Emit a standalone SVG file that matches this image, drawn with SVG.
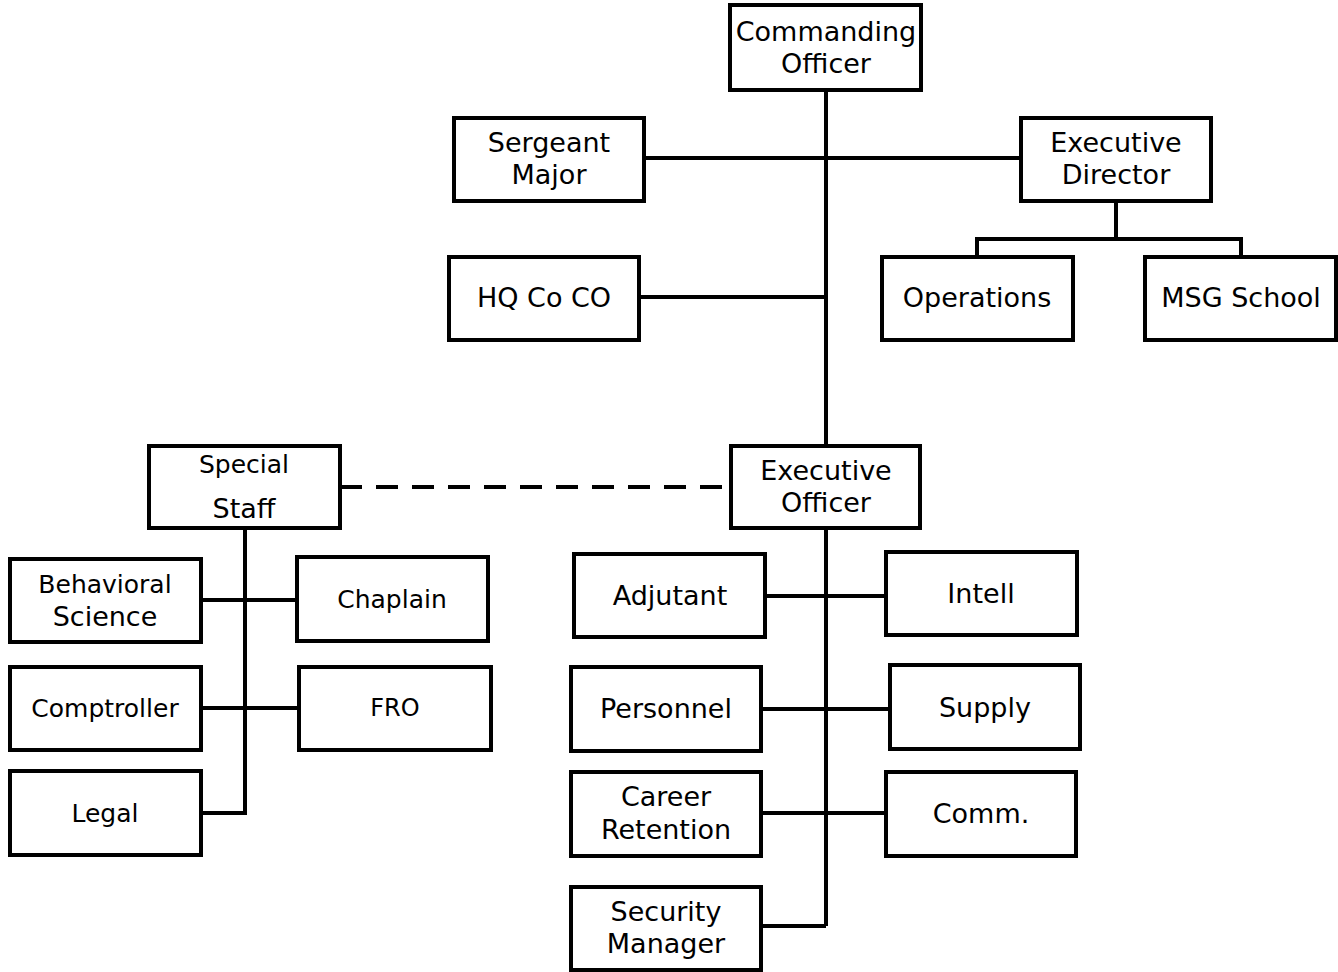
<svg xmlns="http://www.w3.org/2000/svg" width="1338" height="972" viewBox="0 0 1338 972">
<style>
.box{fill:#fff;stroke:#000;stroke-width:4}
.ln{fill:none;stroke:#000;stroke-width:4}
.dash{fill:none;stroke:#000;stroke-width:4;stroke-dasharray:22 14}
text{font-family:"DejaVu Sans","Liberation Sans",sans-serif;font-size:27px;fill:#000;text-anchor:middle}
</style>
<rect width="1338" height="972" fill="#fff"/>
<g id="connectors">
<path class="ln" d="M826 90V446M826 528V926M644 158H1021M639 297H826M1116 201V239M977 257V239H1241V257"/>
<path class="dash" d="M340 487H731"/>
<path class="ln" d="M245 528V813H201M201 600H297M201 708H299"/>
<path class="ln" d="M765 596H886M761 709H890M761 813H886M761 926H826"/>
</g>
<g id="commanding-officer"><rect class="box" x="730" y="5" width="191" height="85"/><text x="826" y="41">Commanding</text><text x="826" y="73">Officer</text></g>
<g id="sergeant-major"><rect class="box" x="454" y="118" width="190" height="83"/><text x="549" y="152">Sergeant</text><text x="549" y="184">Major</text></g>
<g id="executive-director"><rect class="box" x="1021" y="118" width="190" height="83"/><text x="1116" y="152">Executive</text><text x="1116" y="184">Director</text></g>
<g id="hq-co-co"><rect class="box" x="449" y="257" width="190" height="83"/><text x="544" y="307">HQ Co CO</text></g>
<g id="operations"><rect class="box" x="882" y="257" width="191" height="83"/><text x="977" y="307">Operations</text></g>
<g id="msg-school"><rect class="box" x="1145" y="257" width="191" height="83"/><text x="1241" y="307">MSG School</text></g>
<g id="special-staff"><rect class="box" x="149" y="446" width="191" height="82"/><text x="244" y="473" style="font-size:25px">Special</text><text x="244" y="518">Staff</text></g>
<g id="executive-officer"><rect class="box" x="731" y="446" width="189" height="82"/><text x="826" y="480">Executive</text><text x="826" y="512">Officer</text></g>
<g id="behavioral-science"><rect class="box" x="10" y="559" width="191" height="83"/><text x="105" y="593" style="font-size:25px">Behavioral</text><text x="105" y="626">Science</text></g>
<g id="chaplain"><rect class="box" x="297" y="557" width="191" height="84"/><text x="392" y="608" style="font-size:25px">Chaplain</text></g>
<g id="comptroller"><rect class="box" x="10" y="667" width="191" height="83"/><text x="105" y="717" style="font-size:25px">Comptroller</text></g>
<g id="fro"><rect class="box" x="299" y="667" width="192" height="83"/><text x="395" y="716" style="font-size:24px">FRO</text></g>
<g id="legal"><rect class="box" x="10" y="771" width="191" height="84"/><text x="105" y="822" style="font-size:25px">Legal</text></g>
<g id="adjutant"><rect class="box" x="574" y="554" width="191" height="83"/><text x="670" y="605">Adjutant</text></g>
<g id="intell"><rect class="box" x="886" y="552" width="191" height="83"/><text x="981" y="603">Intell</text></g>
<g id="personnel"><rect class="box" x="571" y="667" width="190" height="84"/><text x="666" y="718">Personnel</text></g>
<g id="supply"><rect class="box" x="890" y="665" width="190" height="84"/><text x="985" y="717">Supply</text></g>
<g id="career-retention"><rect class="box" x="571" y="772" width="190" height="84"/><text x="666" y="806">Career</text><text x="666" y="839">Retention</text></g>
<g id="comm"><rect class="box" x="886" y="772" width="190" height="84"/><text x="981" y="823">Comm.</text></g>
<g id="security-manager"><rect class="box" x="571" y="887" width="190" height="83"/><text x="666" y="921">Security</text><text x="666" y="953">Manager</text></g>
</svg>
